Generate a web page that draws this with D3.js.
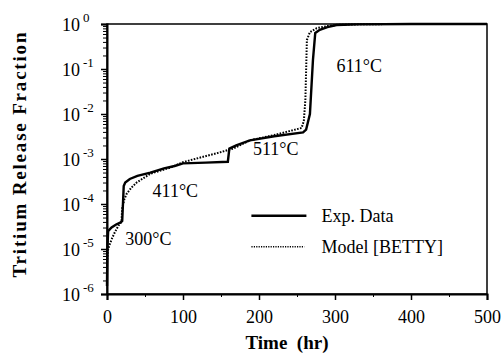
<!DOCTYPE html>
<html lang="en">
<head>
  <meta charset="UTF-8">
  <title>Tritium Release Fraction</title>
  <script src="https://d3js.org/d3.v7.min.js"></script>
  <style>
    body { margin: 0; background: #fff; }
    svg text { font-family: "Liberation Serif", "Times New Roman", serif !important; fill: #000; }
  </style>
</head>
<body>
  <div id="chart"></div>
  <script>
    // experimental data (solid)
    const expTime = [0, 0.5, 1.5, 6, 12, 18, 20, 21, 22, 24, 30, 40, 57, 75, 89, 100, 130, 159, 161, 170, 188, 220, 258, 262, 267, 271, 274, 280, 290, 302, 330, 400, 500];
    const expFrac = [1.5e-6, 1e-5, 2.5e-5, 3e-5, 3.5e-5, 3.9e-5, 4.2e-5, 1e-4, 2.5e-4, 3e-4, 3.6e-4, 4.2e-4, 5e-4, 6.2e-4, 7e-4, 8e-4, 8.3e-4, 8.7e-4, 1.7e-3, 2e-3, 2.6e-3, 3.2e-3, 3.9e-3, 4.5e-3, 1e-2, 0.16, 0.63, 0.74, 0.85, 0.95, 0.98, 1.0, 1.0];

    // model [BETTY] (dotted)
    const modTime = [0, 1, 3, 6.5, 10, 15, 19, 20, 23, 26, 32, 39, 57, 83, 100, 122, 145, 166, 188, 220, 256, 259, 261, 263, 267, 276, 290, 305, 340, 400, 500];
    const modFrac = [5e-6, 9e-6, 1.2e-5, 1.7e-5, 2.3e-5, 3.3e-5, 4e-5, 8e-5, 1.3e-4, 1.7e-4, 2.3e-4, 3e-4, 4.7e-4, 6.4e-4, 8.5e-4, 1.07e-3, 1.35e-3, 1.7e-3, 2.6e-3, 3.4e-3, 4.9e-3, 7e-3, 0.02, 0.44, 0.66, 0.81, 0.9, 0.96, 0.99, 1.0, 1.0];

    const xTicks = [0, 100, 200, 300, 400, 500];
    const yExponents = [0, -1, -2, -3, -4, -5, -6];
    const tempLabels = [
      { text: "300°C", t: 24, v: 1.2e-5 },
      { text: "411°C", t: 60, v: 1.45e-4 },
      { text: "511°C", t: 192, v: 1.2e-3 },
      { text: "611°C", t: 302, v: 0.085 }
    ];
    const legendItems = ["Exp. Data", "Model [BETTY]"];

    const W = 502, H = 355;
    const margin = { top: 24, right: 15, bottom: 61, left: 107 };
    const iw = W - margin.left - margin.right;
    const ih = H - margin.top - margin.bottom;
    const serif = '"Liberation Serif", "Times New Roman", serif';

    const svg = d3.select("#chart").append("svg")
      .attr("width", W).attr("height", H)
      .attr("font-family", serif);
    const g = svg.append("g").attr("transform", `translate(${margin.left},${margin.top})`);

    const x = d3.scaleLinear().domain([0, 500]).range([0, iw]);
    const y = d3.scaleLog().domain([1e-6, 1]).range([ih, 0]);

    // frame
    g.append("rect").attr("width", iw).attr("height", ih)
      .attr("fill", "none").attr("stroke", "#000").attr("stroke-width", 1.5);

    // x axis
    const xAxis = g.append("g").attr("transform", `translate(0,${ih})`)
      .call(d3.axisBottom(x).tickValues(xTicks).tickSize(6).tickPadding(10).tickFormat(d3.format("d")));
    xAxis.attr("font-family", serif);
    xAxis.select(".domain").attr("stroke-width", 2);
    xAxis.selectAll("line").attr("stroke-width", 1.5);
    xAxis.selectAll("text").style("font-size", "18px").style("font-family", serif);
    g.append("g").attr("transform", `translate(0,${ih})`)
      .call(d3.axisBottom(x).tickValues([50, 150, 250, 350, 450]).tickSize(3).tickFormat(""))
      .call(a => a.select(".domain").remove());

    // y axis, major + minor
    const minorY = [];
    for (let e = -6; e < 0; e++) for (let m = 2; m <= 9; m++) minorY.push(m * Math.pow(10, e));
    const yAxis = g.append("g")
      .call(d3.axisLeft(y).tickValues(yExponents.map(e => Math.pow(10, e))).tickSize(6).tickFormat(""));
    yAxis.select(".domain").attr("stroke-width", 2);
    yAxis.selectAll("line").attr("stroke-width", 1.5);
    g.append("g")
      .call(d3.axisLeft(y).tickValues(minorY).tickSize(4).tickFormat(""))
      .call(a => a.select(".domain").remove());

    const yLab = g.append("g").selectAll("text").data(yExponents).join("text")
      .attr("x", -45).attr("y", e => y(Math.pow(10, e)) + 7)
      .style("font-size", "18px").style("font-family", serif);
    yLab.append("tspan").text("10");
    yLab.append("tspan").attr("dx", 3).attr("dy", -9).style("font-size", "13px").text(e => e === 0 ? "0" : e);

    // curves
    const line = d3.line().x(d => x(d[0])).y(d => y(d[1]));
    g.append("path").datum(d3.zip(expTime, expFrac)).attr("d", line)
      .attr("fill", "none").attr("stroke", "#000").attr("stroke-width", 2.4);
    g.append("path").datum(d3.zip(modTime, modFrac)).attr("d", line)
      .attr("fill", "none").attr("stroke", "#000").attr("stroke-width", 2)
      .attr("stroke-dasharray", "1.6,1.4");

    // temperature labels
    g.selectAll(".temp").data(tempLabels).join("text")
      .attr("x", d => x(d.t)).attr("y", d => y(d.v))
      .style("font-size", "18px").style("font-family", serif).text(d => d.text);

    // legend
    const lg = g.append("g").attr("transform", `translate(${x(190)},${y(5.5e-5)})`);
    lg.append("line").attr("x1", 0).attr("x2", 55).attr("y1", 0).attr("y2", 0)
      .attr("stroke", "#000").attr("stroke-width", 2.4);
    lg.append("line").attr("x1", 0).attr("x2", 53).attr("y1", 31).attr("y2", 31)
      .attr("stroke", "#000").attr("stroke-width", 1.5).attr("stroke-dasharray", "1.2,1.2");
    lg.selectAll("text").data(legendItems).join("text")
      .attr("x", 70).attr("y", (d, i) => 6 + i * 31)
      .style("font-size", "18px").style("font-family", serif).text(d => d);

    // axis titles
    svg.append("text").attr("x", margin.left + x(250) - 10).attr("y", 349)
      .attr("text-anchor", "middle").style("font-size", "19px").style("font-weight", "bold")
      .style("font-family", serif)
      .attr("xml:space", "preserve").text("Time  (hr)");
    svg.append("text").attr("transform", `translate(26,155) rotate(-90)`)
      .attr("text-anchor", "middle").style("font-size", "19px").style("font-weight", "bold")
      .style("font-family", serif)
      .attr("textLength", 245).attr("lengthAdjust", "spacing")
      .text("Tritium Release Fraction");
  </script>
</body>
</html>
